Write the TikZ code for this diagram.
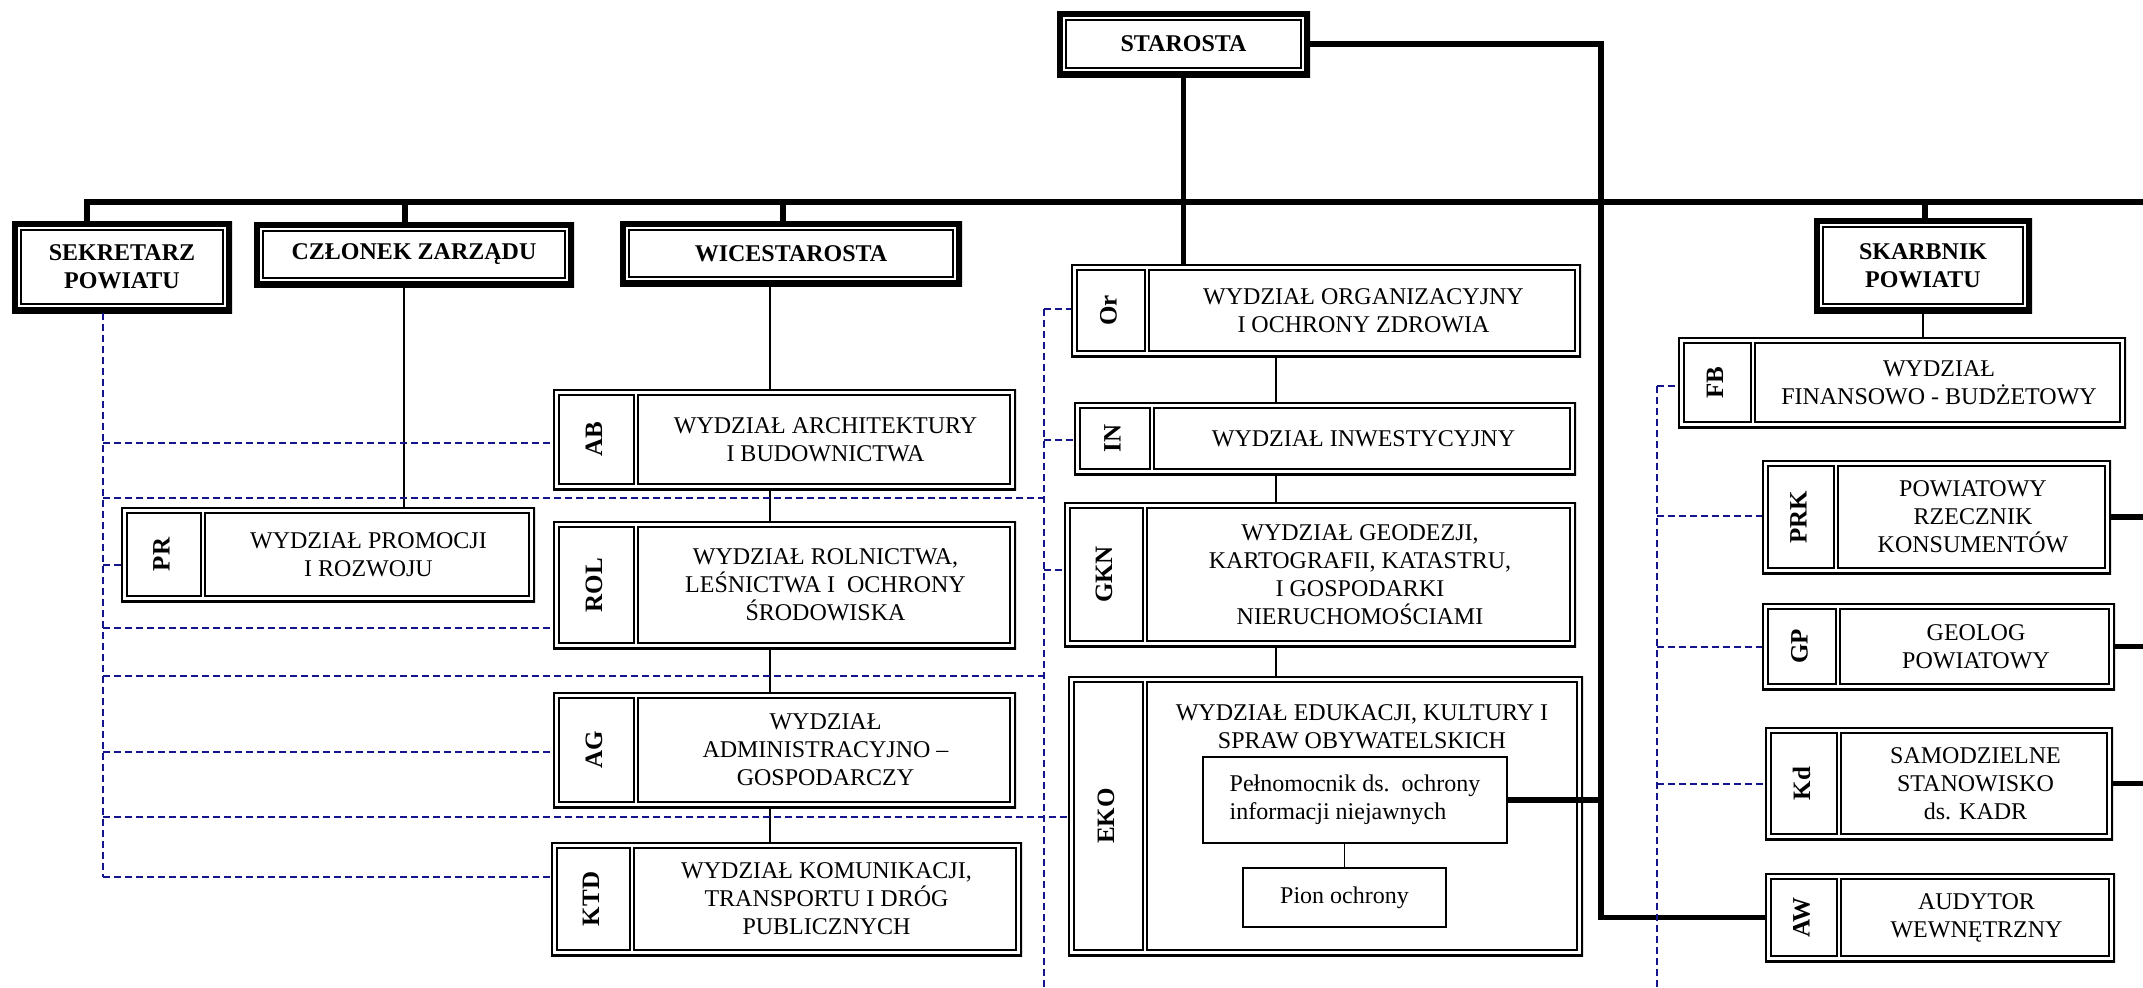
\documentclass[tikz,border=0pt]{standalone}
\usepackage{fontspec}
\setmainfont{Liberation Serif}
\definecolor{dnavy}{RGB}{20,20,140}
\newcommand\topb[6]{%
  \node[topbox, minimum width={(#4-#2)*0.5pt}, minimum height={(#5-#3)*0.5pt}] (#1) at ({(#2+#4)/2},{(#3+#5)/2}) {#6};}
\newcommand\dept[8]{%
  \node[deptbox, minimum width={(#5-#2)*0.5pt}, minimum height={(#6-#3)*0.5pt}] (#1) at ({(#2+#5)/2},{(#3+#6)/2}) {};
  \draw[deptin] ({#2+6},{#3+6}) rectangle ({#4-1},{#6-6});
  \draw[deptin] ({#4+3},{#3+6}) rectangle ({#5-6},{#6-6});
  \node[tablbl] (#1-t) at ({(#2+#4)/2},{(#3+#6)/2}) {#7};
  \node[depttxt] (#1-x) at ({(#4+#5)/2},{(#3+#6)/2}) {#8};}
\begin{document}
\begin{tikzpicture}[x=0.5pt,y=-0.5pt,
  thickln/.style={line width=2.6pt},
  thinln/.style={line width=0.6pt},
  dashln/.style={draw=dnavy, line width=0.95pt, dash pattern=on 3.5pt off 2pt},
  topbox/.style={rectangle, inner sep=0pt, align=center, font=\fontsize{12}{14}\selectfont\bfseries,
    path picture={\draw[line width=6pt] (path picture bounding box.south west) rectangle (path picture bounding box.north east);
      \draw[line width=0.8pt] ([shift={(4.4pt,4.4pt)}]path picture bounding box.south west) rectangle ([shift={(-4.4pt,-4.4pt)}]path picture bounding box.north east);}},
  deptbox/.style={rectangle, inner sep=0pt,
    path picture={\draw[line width=1.7pt] (path picture bounding box.south west) rectangle (path picture bounding box.north east);}},
  deptin/.style={line width=1.35pt},
  tablbl/.style={rotate=90, font=\fontsize{12.5}{14}\selectfont\bfseries, inner sep=0pt},
  depttxt/.style={align=center, font=\fontsize{12}{14}\selectfont, inner sep=0pt},
  smallbox/.style={draw, line width=0.6pt, inner sep=0pt, font=\fontsize{12}{14}\selectfont},
]
\useasboundingbox (0,0) rectangle (2143,987);

% top level boxes
\topb{SEK}{12}{221}{232}{313}{SEKRETARZ\\POWIATU}
\topb{CZL}{254}{222}{574}{287}{CZŁONEK ZARZĄDU}
\topb{WIC}{620}{221}{962}{286}{WICESTAROSTA}
\topb{STA}{1057}{11}{1310}{77}{STAROSTA}
\topb{SKA}{1814}{218}{2032}{313}{SKARBNIK\\POWIATU}

% departments
\dept{AB}{553}{389}{635}{1016}{490}{AB}{WYDZIAŁ ARCHITEKTURY\\I BUDOWNICTWA}
\dept{ROL}{553}{521}{635}{1016}{649}{ROL}{WYDZIAŁ ROLNICTWA,\\LEŚNICTWA I~ OCHRONY\\ŚRODOWISKA}
\dept{AG}{553}{692}{635}{1016}{808}{AG}{WYDZIAŁ\\ADMINISTRACYJNO –\\GOSPODARCZY}
\dept{KTD}{551}{842}{631}{1022}{956}{KTD}{WYDZIAŁ KOMUNIKACJI,\\TRANSPORTU I DRÓG\\PUBLICZNYCH}
\dept{PR}{121}{507}{202}{535}{602}{PR}{WYDZIAŁ PROMOCJI\\I ROZWOJU}
\dept{Or}{1071}{264}{1146}{1581}{357}{Or}{WYDZIAŁ ORGANIZACYJNY\\I OCHRONY ZDROWIA}
\dept{IN}{1074}{402}{1151}{1576}{475}{IN}{WYDZIAŁ INWESTYCYJNY}
\dept{GKN}{1064}{502}{1144}{1576}{647}{GKN}{WYDZIAŁ GEODEZJI,\\KARTOGRAFII, KATASTRU,\\I GOSPODARKI\\NIERUCHOMOŚCIAMI}
\dept{EKO}{1068}{676}{1144}{1583}{956}{EKO}{}
\dept{FB}{1678}{337}{1752}{2126}{428}{FB}{WYDZIAŁ\\FINANSOWO - BUDŻETOWY}
\dept{PRK}{1762}{460}{1835}{2111}{574}{PRK}{POWIATOWY\\RZECZNIK\\KONSUMENTÓW}
\dept{GP}{1762}{603}{1837}{2115}{690}{GP}{GEOLOG\\POWIATOWY}
\dept{Kd}{1765}{727}{1838}{2113}{840}{Kd}{SAMODZIELNE\\STANOWISKO\\ds. KADR}
\dept{AW}{1765}{873}{1838}{2115}{962}{AW}{AUDYTOR\\WEWNĘTRZNY}

\node[depttxt] (EKOtitle) at (1362,727) {WYDZIAŁ EDUKACJI, KULTURY I\\SPRAW OBYWATELSKICH};
\node[smallbox, minimum width=152pt, minimum height=43pt, align=left] (Pel) at (1355,800) {Pełnomocnik ds.\ \ ochrony\\informacji niejawnych};
\node[smallbox, minimum width=101.5pt, minimum height=29.5pt] (Pion) at (1344.5,897.5) {Pion ochrony};

% helper coordinates
\coordinate (busL) at (87,202);
\coordinate (busR) at (2143,202);
\coordinate (dCZ) at (405,202);
\coordinate (dWI) at (783,202);
\coordinate (dSK) at (1925,202);
\coordinate (vx) at (1601,44);
\coordinate (re) at (2143,0);
\coordinate (wl) at (770,0);
\coordinate (ml) at (1276,0);
\coordinate (czl) at (404,0);
\coordinate (dl) at (103,313);
\coordinate (dlb) at (103,877);
\coordinate (dm) at (1044,309);
\coordinate (dmb) at (1044,987);
\coordinate (dr) at (1657,386);
\coordinate (drb) at (1657,987);
\coordinate (h1) at (0,498);
\coordinate (h2) at (0,676);
\coordinate (yab) at (0,443);
\coordinate (yrol) at (0,628);
\coordinate (ypr) at (0,565);
\coordinate (yag) at (0,752);
\coordinate (yeko) at (0,817);
\coordinate (yin) at (0,440);
\coordinate (ygkn) at (0,570);
\coordinate (yprk) at (0,516);
\coordinate (ygp) at (0,647);
\coordinate (ykd) at (0,784);

% thick connectors
\draw[thickln] (busL |- SEK.north) -- (busL) -- (busR);
\draw[thickln] (dCZ) -- (dCZ |- CZL.north);
\draw[thickln] (dWI) -- (dWI |- WIC.north);
\draw[thickln] (dSK) -- (dSK |- SKA.north);
\draw[thickln] (STA.south) -- (STA.south |- Or.north);
\draw[thickln] (STA.east) -- (vx) -- (vx |- AW.west) -- (AW.west);
\draw[thickln] (Pel.east) -- (vx |- Pel.east);
\draw[thickln] (PRK.east) -- (re |- PRK.east);
\draw[thickln] (GP.east) -- (re |- GP.east);
\draw[thickln] (Kd.east) -- (re |- Kd.east);

% thin connectors
\draw[thinln] (czl |- CZL.south) -- (czl |- PR.north);
\draw[thinln] (wl |- WIC.south) -- (wl |- AB.north);
\draw[thinln] (wl |- AB.south) -- (wl |- ROL.north);
\draw[thinln] (wl |- ROL.south) -- (wl |- AG.north);
\draw[thinln] (wl |- AG.south) -- (wl |- KTD.north);
\draw[thinln] (ml |- Or.south) -- (ml |- IN.north);
\draw[thinln] (ml |- IN.south) -- (ml |- GKN.north);
\draw[thinln] (ml |- GKN.south) -- (ml |- EKO.north);
\draw[thinln] (SKA.south) -- (SKA.south |- FB.north);
\draw[thinln] (Pion.north) -- (Pion.north |- Pel.south);

% dashed connectors
\draw[dashln] (dl) -- (dlb);
\draw[dashln] (dl |- yab) -- (AB.west |- yab);
\draw[dashln] (dl |- h1) -- (dm |- h1);
\draw[dashln] (dl |- ypr) -- (PR.west |- ypr);
\draw[dashln] (dl |- yrol) -- (ROL.west |- yrol);
\draw[dashln] (dl |- h2) -- (dm |- h2);
\draw[dashln] (dl |- yag) -- (AG.west |- yag);
\draw[dashln] (dl |- yeko) -- (EKO.west |- yeko);
\draw[dashln] (dlb) -- (KTD.west |- dlb);
\draw[dashln] (dm) -- (dmb);
\draw[dashln] (dm) -- (Or.west |- dm);
\draw[dashln] (dm |- yin) -- (IN.west |- yin);
\draw[dashln] (dm |- ygkn) -- (GKN.west |- ygkn);
\draw[dashln] (dr) -- (drb);
\draw[dashln] (dr) -- (FB.west |- dr);
\draw[dashln] (dr |- yprk) -- (PRK.west |- yprk);
\draw[dashln] (dr |- ygp) -- (GP.west |- ygp);
\draw[dashln] (dr |- ykd) -- (Kd.west |- ykd);
\end{tikzpicture}
\end{document}
